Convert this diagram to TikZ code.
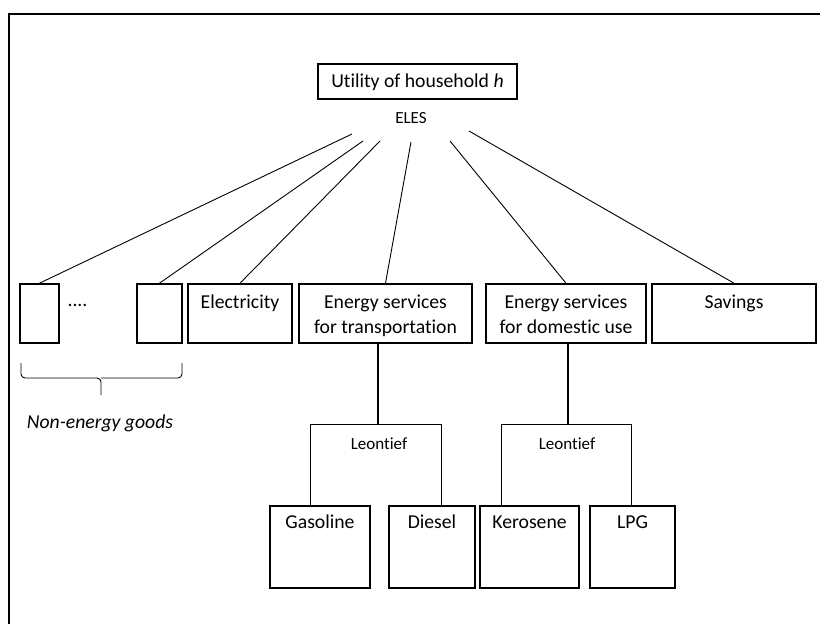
\documentclass[tikz,border=0pt]{standalone}
\usepackage{fontspec}
\setmainfont{Carlito}[Ligatures={NoCommon,NoRequired}]
\newcommand\bigf{\fontsize{19.7}{25}\selectfont}
\newcommand\smallf{\fontsize{17}{20}\selectfont}
\newcommand\leof{\fontsize{17}{20}\selectfont}
\begin{document}
\begin{tikzpicture}[x=1pt,y=-1pt,
  box/.style={draw, line width=1.6pt, inner sep=0pt},
  lbl/.style={font=\bigf, inner sep=0pt, anchor=north, align=center},
  small/.style={font=\smallf, inner sep=0pt},
  conn/.style={line width=0.9pt},
  stem/.style={line width=1.3pt}]
\useasboundingbox (0,0) rectangle (820,624);
% frame
\draw[line width=1.6pt] (820,14) -- (9,14) -- (9,624);
% top node
\node[box, minimum width=199pt, minimum height=35pt, font=\bigf, text height=12.5pt, text depth=0pt] (util) at (417.5,81.5) {Utility of household \textit{h}};
\node[small, anchor=base] (eles) at (411,123) {ELES};
% middle row
\node[box, minimum width=39pt, minimum height=59pt] (ng1) at (39.5,313.5) {};
\node[box, minimum width=45pt, minimum height=59pt] (ng2) at (159.5,313.5) {};
\node[box, minimum width=104pt, minimum height=59pt] (elec) at (240,313.5) {};
\node[box, minimum width=173pt, minimum height=59pt] (trans) at (385.5,313.5) {};
\node[box, minimum width=160pt, minimum height=59pt] (dom) at (566,313.5) {};
\node[box, minimum width=164pt, minimum height=59pt] (sav) at (734,313.5) {};
\node[lbl] (elecT) at ([yshift=-7.5pt]elec.north) {\strut Electricity};
\node[lbl] (transT) at ([yshift=-7.5pt]trans.north) {\strut Energy services\\for transportation};
\node[lbl] (domT) at ([yshift=-7.5pt]dom.north) {\strut Energy services\\for domestic use};
\node[lbl] (savT) at ([yshift=-7.5pt]sav.north) {\strut Savings};
\node[font=\bigf, inner sep=0pt, anchor=base] (dots) at (77.5,306) {....};
% brace
\draw[conn, rounded corners=4pt] (21,363) -- (21,378) -- (101,378) -- (101,395);
\draw[conn, rounded corners=4pt] (182,363) -- (182,378) -- (101,378);
\node[font=\bigf\itshape, inner sep=0pt, anchor=base] (neg) at (100,428) {Non-energy goods};
% ELES connectors
\coordinate (e1) at (352,134);
\coordinate (e2) at (363,141);
\coordinate (e3) at (380,141);
\coordinate (e4) at (411,142);
\coordinate (e5) at (450,141);
\coordinate (e6) at (469,131);
\draw[conn] (e1) -- (ng1.north);
\draw[conn] (e2) -- (ng2.north);
\draw[conn] (e3) -- (elec.north);
\draw[conn] (e4) -- (trans.north);
\draw[conn] (e5) -- (dom.north);
\draw[conn] (e6) -- (sav.north);
% bottom row
\node[box, minimum width=100pt, minimum height=82pt] (gas) at (320,547) {};
\node[box, minimum width=86pt, minimum height=82pt] (dsl) at (432,547) {};
\node[box, minimum width=99pt, minimum height=82pt] (ker) at (529.5,547) {};
\node[box, minimum width=85pt, minimum height=82pt] (lpg) at (632.5,547) {};
\node[lbl] (gasT) at ([yshift=-5.5pt]gas.north) {\strut Gasoline};
\node[lbl] (dslT) at ([yshift=-5.5pt]dsl.north) {\strut Diesel};
\node[lbl] (kerT) at ([yshift=-5.5pt]ker.north) {\strut Kerosene};
\node[lbl] (lpgT) at ([yshift=-5.5pt]lpg.north) {\strut LPG};
% Leontief nests
\coordinate (tj) at (378,424);
\coordinate (dj) at (568,424);
\coordinate (L1) at (310,424);
\coordinate (R1) at (441,424);
\coordinate (L2) at (501,424);
\coordinate (R2) at (631,424);
\draw[stem] (tj |- trans.south) -- (tj);
\draw[stem] (dj |- dom.south) -- (dj);
\draw[conn] (L1 |- gas.north) -- (L1) -- (R1) -- (R1 |- dsl.north);
\draw[conn] (L2 |- ker.north) -- (L2) -- (R2) -- (R2 |- lpg.north);
\node[font=\leof, inner sep=0pt, anchor=base] (leo1) at (379,449) {Leontief};
\node[font=\leof, inner sep=0pt, anchor=base] (leo2) at (567,449) {Leontief};
\end{tikzpicture}
\end{document}
